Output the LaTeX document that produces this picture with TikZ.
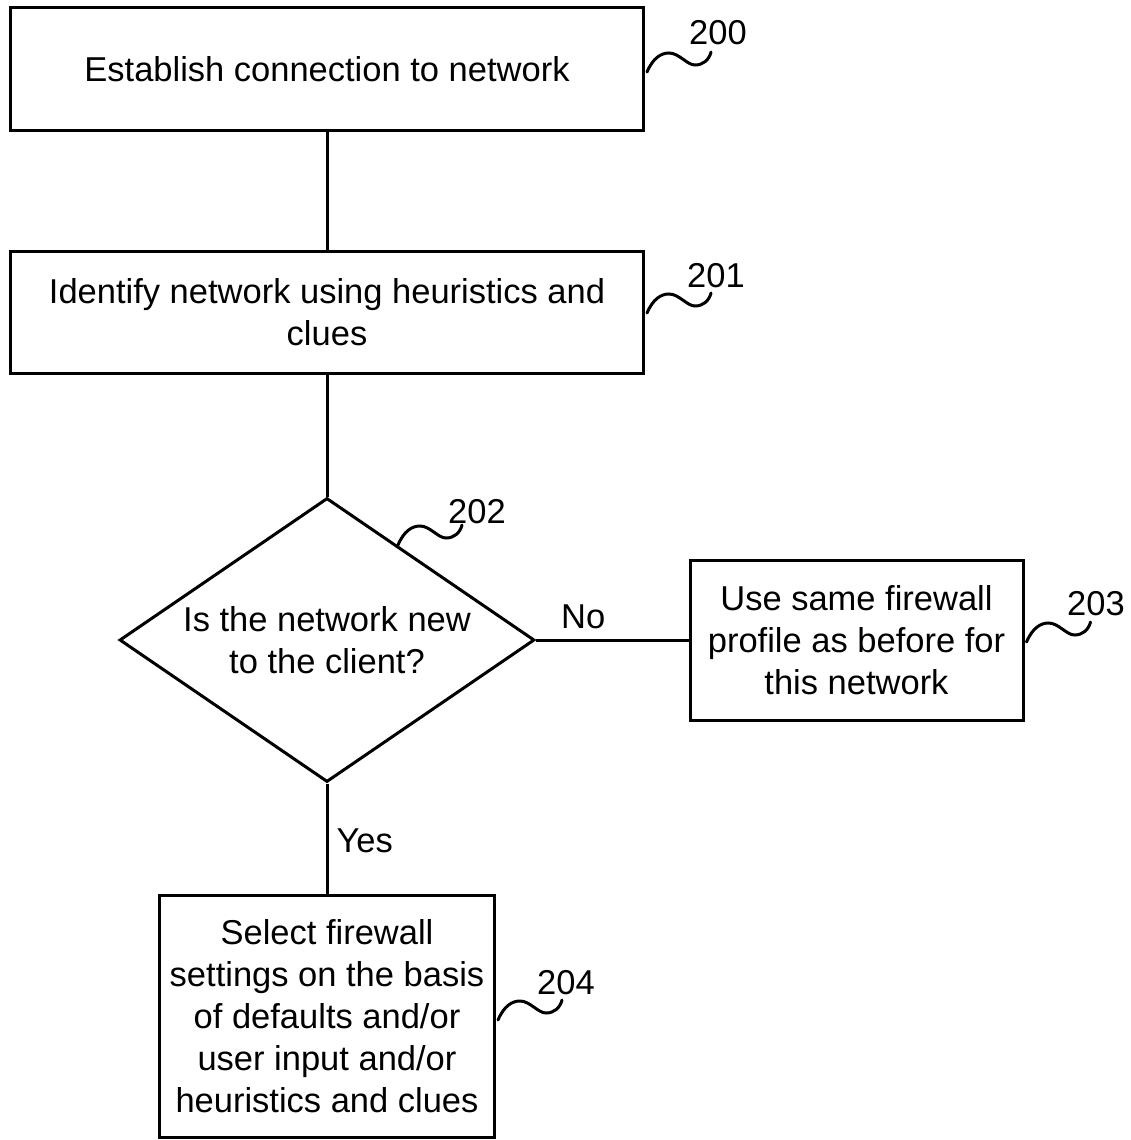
\documentclass[tikz,border=0pt]{standalone}
\usepackage{fontspec}
\setmainfont{Liberation Sans}
\usetikzlibrary{shapes.geometric}
\begin{document}
\begin{tikzpicture}[x=1pt,y=-1pt,
  every node/.style={font=\fontsize{34.5}{42}\selectfont},
  box/.style={draw,line width=3pt,rectangle,align=center,inner sep=0pt},
  conn/.style={line width=3pt},
  squig/.pic={\draw[line width=3pt,line cap=round] (0,0) .. controls (6,-14) and (14,-19) .. (22,-19) .. controls (32,-19) and (40,-7) .. (48,-7) .. controls (56,-7) and (62,-12) .. (64,-20);},
  lbl/.style={inner sep=0pt}]
\useasboundingbox (0,0) rectangle (1131,1140);
\node[box,minimum width=633pt,minimum height=122pt] (b200) at (327,69) {Establish connection to network};
\node[box,minimum width=633pt,minimum height=122pt] (b201) at (327,312) {Identify network using heuristics and\\clues};
\node[draw,line width=3pt,diamond,aspect=1.46,inner sep=0pt,minimum width=415pt,minimum height=284pt,align=center] (d202) at (327,640) {Is the network new\\to the client?};
\node[box,minimum width=333pt,minimum height=160pt] (b203) at (856.5,640) {Use same firewall\\profile as before for\\this network};
\node[box,minimum width=335pt,minimum height=242pt] (b204) at (327,1016) {Select firewall\\settings on the basis\\of defaults and/or\\user input and/or\\heuristics and clues};
\draw[conn] (b200.south) -- (b201.north);
\draw[conn] (b201.south) -- (d202.north);
\draw[conn] (d202.east) -- node[lbl,above=10pt,pos=0.31] {No} (b203.west);
\draw[conn] (d202.south) -- node[lbl,right=8pt,pos=0.52] {Yes} (b204.north);
\node[lbl] (n200) at (718,33) {200};
\node[lbl] (n201) at (716,276) {201};
\node[lbl] (n202) at (477,512) {202};
\node[lbl] (n203) at (1096,604) {203};
\node[lbl] (n204) at (566,983) {204};
\path (b200.east) ++(2,3) pic {squig};
\path (b201.east) ++(2,1) pic {squig};
\path (398,545) pic {squig};
\path (b203.east) ++(2,2) pic {squig};
\path (b204.east) ++(2,4) pic {squig};
\end{tikzpicture}
\end{document}
